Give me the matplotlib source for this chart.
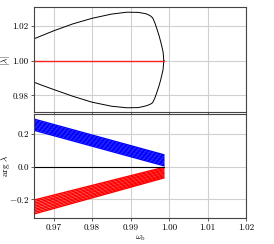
import matplotlib
matplotlib.use("Agg")
import matplotlib.pyplot as plt

plt.rcParams["font.family"] = "cmr10"
plt.rcParams["mathtext.fontset"] = "cm"
plt.rcParams["axes.formatter.use_mathtext"] = True
plt.rcParams["axes.unicode_minus"] = True
plt.rcParams["font.size"] = 6.5

# |lambda| branch (upper / lower halves of the closed curve)
w_mod = [0.9650, 0.9670, 0.9700, 0.9750, 0.9800, 0.9850, 0.9890, 0.9920,
         0.9940, 0.9950, 0.9957, 0.9963, 0.9969, 0.9974, 0.9978, 0.9981,
         0.9984, 0.9985, 0.9986]
mod_upper = [1.0125, 1.0143, 1.0170, 1.0210, 1.0242, 1.0266, 1.0277, 1.0276,
             1.0268, 1.0258, 1.0245, 1.0215, 1.0175, 1.0140, 1.0107, 1.0080,
             1.0050, 1.0028, 1.0000]
mod_lower = [0.9875, 0.9858, 0.9834, 0.9795, 0.9761, 0.9738, 0.9729, 0.9730,
             0.9740, 0.9748, 0.9758, 0.9786, 0.9824, 0.9858, 0.9890, 0.9918,
             0.9948, 0.9972, 1.0000]

# flat branches (|lambda| = 1 and arg = 0)
w_flat = [0.9650, 0.9986]
mod_flat = [1.0, 1.0]
arg_flat = [0.0, 0.0]

# arg lambda bands: value of each line at the two ends of w_flat
blue_left = [0.222, 0.230, 0.237, 0.245, 0.252, 0.260, 0.267, 0.275, 0.282, 0.290]
blue_right = [0.005, 0.012, 0.020, 0.027, 0.035, 0.042, 0.050, 0.057, 0.065, 0.072]
red_left = [-0.205, -0.214, -0.224, -0.233, -0.243, -0.252, -0.262, -0.271, -0.281, -0.290]
red_right = [-0.005, -0.012, -0.020, -0.027, -0.035, -0.042, -0.050, -0.057, -0.064, -0.070]

xticks = [0.97, 0.98, 0.99, 1.00, 1.01, 1.02]

fig = plt.figure(figsize=(2.74, 2.44), dpi=100)
ax1 = fig.add_axes([0.125, 0.539, 0.774, 0.431])
ax2 = fig.add_axes([0.125, 0.108, 0.774, 0.423])

for ax in (ax1, ax2):
    ax.grid(True, color="#d0d0d0", lw=0.8)
    ax.set_axisbelow(True)
    for s in ax.spines.values():
        s.set_color("#444444")
        s.set_linewidth(0.8)
    ax.tick_params(length=2, width=0.6, pad=2, color="#444444")
    ax.set_xlim(0.965, 1.02)
    ax.set_xticks(xticks)

ax1.plot(w_mod, mod_upper, color="black", lw=0.7)
ax1.plot(w_mod, mod_lower, color="black", lw=0.7)
ax1.plot(w_flat, mod_flat, color="#ff2020", lw=1.0)
ax1.set_ylim(0.9702, 1.0305)
ax1.set_yticks([0.98, 1.00, 1.02])
ax1.set_yticklabels(["0.98", "1.00", "1.02"])
ax1.set_xticklabels([])
ax1.set_ylabel(r"$|\lambda|$")
ax1.yaxis.set_label_coords(-0.107, 0.5)

for l, r in zip(blue_left, blue_right):
    ax2.plot(w_flat, [l, r], color="blue", lw=1.0)
for l, r in zip(red_left, red_right):
    ax2.plot(w_flat, [l, r], color="red", lw=1.0)
ax2.plot(w_flat, arg_flat, color="black", lw=0.8)
ax2.set_ylim(-0.313, 0.319)
ax2.set_yticks([-0.2, 0.0, 0.2])
ax2.set_yticklabels([r"$-0.2$", "0.0", "0.2"])
ax2.set_xticklabels(["0.97", "0.98", "0.99", "1.00", "1.01", "1.02"])
ax2.set_xlabel(r"$\omega_\mathrm{b}$", labelpad=1)
ax2.set_ylabel(r"$\arg\,\lambda$")
ax2.yaxis.set_label_coords(-0.107, 0.5)

fig.savefig("out.png", dpi=100)
